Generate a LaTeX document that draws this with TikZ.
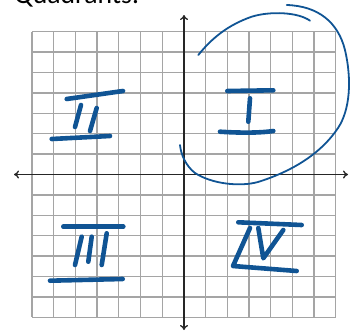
\documentclass[tikz,border=0pt]{standalone}
\usepackage{fontspec}
\setmainfont{Carlito}
\usetikzlibrary{arrows.meta}
\definecolor{ink}{RGB}{16,84,148}
\definecolor{gridgray}{RGB}{165,165,165}
\tikzset{
  gridline/.style={draw=gridgray, line width=1.3pt},
  axisline/.style={draw=black!85, line width=1.3pt, -{To[length=5pt,width=8pt]}},
  numeral/.style={draw=ink, line width=4.6pt, line cap=round, line join=round},
  loopline/.style={draw=ink, line width=1.8pt, line cap=round},
}
\begin{document}
\begin{tikzpicture}[x=1pt,y=-1pt]
\useasboundingbox (0,0) rectangle (350,332);
\clip (0,0) rectangle (350,332);
% title (cut off at top, as in the reference)
\node[anchor=base west, inner sep=0pt, font=\fontsize{27.7}{30}\selectfont] (title) at (14,4) {Quadrants:};
% grid
\foreach \k in {0,...,14} {
  \draw[gridline] ({32+21.7*\k},31.7) -- ({32+21.7*\k},317.3);
  \draw[gridline] (32,{31.7+20.4*\k}) -- (335.8,{31.7+20.4*\k});
}
% axes
\coordinate (origin) at (184,174.5);
\coordinate (left) at (14,174.5);
\coordinate (right) at (348,174.5);
\coordinate (top) at (184,15);
\coordinate (bottom) at (184,330);
\draw[axisline] (origin) -- (left);
\draw[axisline] (origin) -- (right);
\draw[axisline] (origin) -- (top);
\draw[axisline] (origin) -- (bottom);
% loop round quadrant I
\draw[loopline] (198.3,55) .. controls (212,38) and (228,25) .. (251.7,16.7)
   .. controls (270,11) and (298,12) .. (310,20.7);
\draw[loopline] (286.7,5) .. controls (318,6) and (338,22) .. (345,50)
   .. controls (352,80) and (350,110) .. (338,128)
   .. controls (320,155) and (290,172) .. (258,182)
   .. controls (240,187) and (212,184) .. (195,173)
   .. controls (186,166) and (181,155) .. (180,145);
% II
\draw[numeral] (66.7,99) -- (123,91);
\draw[numeral] (81,105) -- (75,127);
\draw[numeral] (96.7,108) -- (90,131);
\draw[numeral] (51.7,139) -- (110,136);
% I
\draw[numeral] (227.3,91) -- (273.3,90.3);
\draw[numeral] (250,98.3) -- (248.3,121.7);
\draw[numeral] (220,131.7) .. controls (240,133) and (260,133) .. (273.3,131);
% III
\draw[numeral] (63.3,226.7) -- (123.3,226.7);
\draw[numeral] (81.7,236.7) -- (75,265);
\draw[numeral] (91.7,236.7) -- (88.3,261.7);
\draw[numeral] (106.7,233.3) -- (101.7,265);
\draw[numeral] (50,280.7) -- (122.7,279);
% IV
\draw[numeral] (238.3,222.3) -- (301.7,225);
\draw[numeral] (250,228) -- (233,266) -- (296.7,271);
\draw[numeral] (258.3,228) -- (263.3,258.3) -- (283.3,230);
\end{tikzpicture}
\end{document}
